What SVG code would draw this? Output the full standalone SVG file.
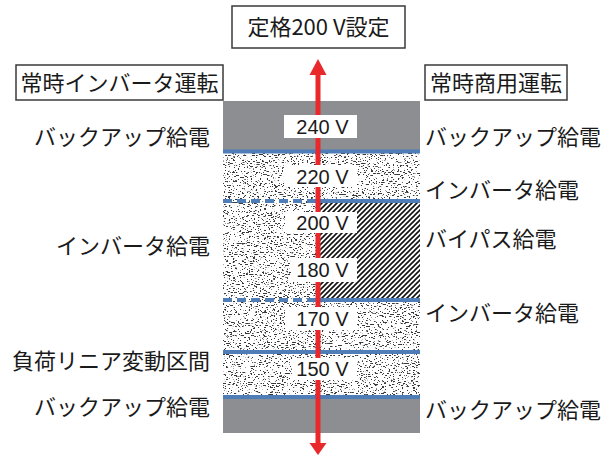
<svg xmlns="http://www.w3.org/2000/svg" width="613" height="457" viewBox="0 0 613 457">
<style>
.jp{font-family:"Noto Sans CJK JP","Liberation Sans",sans-serif;font-size:22px;fill:#1a1a1a}
.num{font-family:"Liberation Sans",Arial,sans-serif;font-size:20px;fill:#1a1a1a;text-anchor:middle}
.frame{fill:#fff;stroke:#3a3a3a;stroke-width:1.5}
.gray{fill:#8d8e92}
.blue{stroke:#4f7db8;stroke-width:4;fill:none}
.dash{stroke-dasharray:9 5}
.lbl{fill:#fff}
</style>
<defs>
<filter id="stip" x="0" y="0" width="1" height="1" color-interpolation-filters="sRGB">
<feTurbulence type="fractalNoise" baseFrequency="0.45 0.9" numOctaves="2" seed="7" result="n"/>
<feColorMatrix in="n" type="matrix" values="0 0 0 0 0.22  0 0 0 0 0.22  0 0 0 0 0.22  -18 0 0 0 7.3" result="d"/>
<feFlood flood-color="#ffffff" result="w"/>
<feMerge><feMergeNode in="w"/><feMergeNode in="d"/></feMerge>
</filter>
<pattern id="hatch" patternUnits="userSpaceOnUse" width="5" height="5">
<rect width="5" height="5" fill="#fff"/>
<path d="M-1,6 L6,-1 M-1,1 L1,-1 M4,6 L6,4" stroke="#111" stroke-width="1.6"/>
</pattern>
</defs>

<g id="column">
<rect x="223" y="151" width="197" height="246" fill="#fff" filter="url(#stip)"/>
<rect x="320" y="201" width="100" height="99" fill="url(#hatch)"/>
<rect class="gray" x="223" y="101" width="197" height="50"/>
<rect class="gray" x="223" y="397" width="197" height="36"/>
</g>

<g id="connectors">
<line class="blue" x1="223" y1="151.5" x2="420" y2="151.5"/>
<line class="blue dash" x1="223" y1="201" x2="316" y2="201"/>
<line class="blue" x1="318" y1="201" x2="420" y2="201"/>
<line class="blue dash" x1="223" y1="300" x2="316" y2="300"/>
<line class="blue" x1="318" y1="300" x2="420" y2="300"/>
<line class="blue" x1="223" y1="352" x2="420" y2="352"/>
<line class="blue" x1="223" y1="397" x2="420" y2="397"/>
<line x1="318" y1="73" x2="318" y2="445" stroke="#e8282b" stroke-width="5"/>
<polygon points="318,59 326.5,75 309.5,75" fill="#e8282b"/>
<polygon points="318,455 326.5,443 309.5,443" fill="#e8282b"/>
</g>

<g id="v240"><rect class="lbl" x="284" y="115" width="73" height="23"/><text class="num" x="322.5" y="134">240 V</text></g>
<g id="v220"><rect class="lbl" x="284" y="165" width="73" height="22"/><text class="num" x="322.5" y="183.5">220 V</text></g>
<g id="v200"><rect class="lbl" x="285" y="212" width="72" height="21"/><text class="num" x="322.5" y="230">200 V</text></g>
<g id="v180"><rect class="lbl" x="291" y="258" width="66" height="24"/><text class="num" x="322.5" y="277">180 V</text></g>
<g id="v170"><rect class="lbl" x="285" y="307" width="72" height="23"/><text class="num" x="322.5" y="325.5">170 V</text></g>
<g id="v150"><rect class="lbl" x="292" y="358" width="65" height="22"/><text class="num" x="322.5" y="376">150 V</text></g>

<g id="title"><rect class="frame" x="232" y="6" width="173" height="42"/><text class="jp" x="318.5" y="35" text-anchor="middle">定格200 V設定</text></g>
<g id="left-head"><rect class="frame" x="16" y="65" width="207" height="35"/><text class="jp" x="119.5" y="91" text-anchor="middle">常時インバータ運転</text></g>
<g id="right-head"><rect class="frame" x="425" y="65" width="142" height="35"/><text class="jp" x="496" y="91" text-anchor="middle">常時商用運転</text></g>

<g id="left-labels">
<text class="jp" x="210" y="145" text-anchor="end">バックアップ給電</text>
<text class="jp" x="210" y="254" text-anchor="end">インバータ給電</text>
<text class="jp" x="210" y="369" text-anchor="end">負荷リニア変動区間</text>
<text class="jp" x="210" y="415" text-anchor="end">バックアップ給電</text>
</g>
<g id="right-labels">
<text class="jp" x="425" y="145">バックアップ給電</text>
<text class="jp" x="425" y="198">インバータ給電</text>
<text class="jp" x="425" y="247">バイパス給電</text>
<text class="jp" x="425" y="321">インバータ給電</text>
<text class="jp" x="425" y="418">バックアップ給電</text>
</g>
</svg>
